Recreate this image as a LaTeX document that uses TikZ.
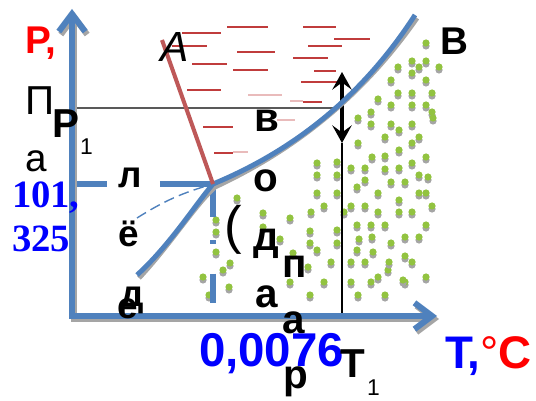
\documentclass[tikz,border=0pt]{standalone}
\usepackage{fontspec}
\setmainfont{Liberation Sans}
\newfontfamily\timesbf[BoldFont={Liberation Serif Bold}]{Liberation Serif}
\usetikzlibrary{arrows.meta}

\definecolor{axisblue}{RGB}{79,129,189}
\definecolor{meltred}{RGB}{190,88,88}
\definecolor{liqred}{RGB}{192,60,60}
\definecolor{vapgreen}{RGB}{146,195,64}
\definecolor{vapgray}{RGB}{165,165,165}

\begin{document}
\begin{tikzpicture}[
  x=0.02cm, y=-0.02cm,
  txt/.style={anchor=base west, inner sep=0pt, outer sep=0pt},
  letter/.style={txt, font=\bfseries\fontsize{23}{23}\selectfont},
  sub/.style={txt, font=\fontsize{13}{13}\selectfont},
  axisline/.style={axisblue, line width=3.4pt, line cap=rect, -{Straight Barb[length=10pt,width=15pt]}},
  axisshadow/.style={vapgray, line width=3.4pt, line cap=rect, -{Straight Barb[length=10pt,width=15pt]}},
  phase/.style={axisblue, line width=2.8pt},
  phaseshadow/.style={vapgray, line width=2.8pt},
  melt/.style={meltred, line width=2.3pt},
  liq/.style={liqred, line width=1pt},
  liqfaded/.style={liqred!35, line width=1pt},
  guide/.style={axisblue, line width=3.4pt},
]
\useasboundingbox (0,0) rectangle (536,401);

%% Key points
\coordinate (O)   at (72,316);
\coordinate (Ytip) at (72,9);
\coordinate (Xtip) at (437,316);
\coordinate (TP)  at (213,184);
\coordinate (A)   at (162,40);
\coordinate (B)   at (415,15);
\coordinate (S)   at (137,275);
\coordinate (Sc)  at (137,218);
\coordinate (P1a) at (72,108);
\coordinate (P1b) at (340,108);
\coordinate (T1top) at (342,72);
\coordinate (T1mid) at (342,143);
\coordinate (T1bot) at (342,315);

%% Vapour dots
\foreach \x/\y in {426/43, 412/61, 426/61, 439/67, 419/67, 398/67, 412/73, 391/80,
  426/80, 398/93, 412/93, 432/93, 378/99, 391/105, 412/105, 426/105, 371/112,
  432/112, 433/118, 358/118, 371/124, 391/124, 412/124, 399/130, 385/137, 419/137,
  358/143, 412/143, 399/150, 372/157, 385/156, 426/157, 317/163, 337/162, 412/163,
  351/168, 365/168, 385/169, 399/168, 317/175, 337/175, 365/180, 419/175, 391/182,
  405/182, 428/177, 357/187, 317/193, 337/193, 378/193, 419/193, 426/193, 399/200,
  324/206, 351/206, 365/206, 432/206, 311/212, 344/212, 378/212, 399/212, 412/212,
  290/218, 337/230, 357/225, 371/225, 385/225, 426/225, 310/231, 280/239, 372/237,
  405/237, 419/237, 359/239, 310/243, 337/243, 391/243, 357/250, 317/250, 293/253,
  373/252, 405/256, 331/262, 351/262, 365/262, 388/270, 412/262, 308/267, 389/262,
  378/277, 426/277, 324/282, 351/282, 371/282, 405/282, 290/282, 310/295, 358/295,
  385/295, 403/280, 237/198, 216/220, 216/232, 216/252, 230/263, 223/270, 203/277,
  229/287, 209/295, 263/213, 263/227}
{
  \fill[vapgray]  (\x,\y+3) circle (3.6);
  \fill[vapgreen] (\x,\y) circle (3.6);
}

%% Liquid dashes
\foreach \xa/\xb/\y in {227/268/27, 182/221/33, 172/207/46, 237/275/52, 192/227/64,
  233/268/70, 187/221/90, 212/233/108, 203/233/127, 214/233/153, 303/336/27,
  334/370/39, 308/342/46, 293/328/58, 314/336/71, 301/342/82, 303/322/102}
  \draw[liq] (\xa,\y) -- (\xb,\y);
\foreach \xa/\xb/\y in {248/282/95, 290/303/101, 277/295/120, 233/248/152}
  \draw[liqfaded] (\xa,\y) -- (\xb,\y);

%% Isobar and isotherm
\draw[black!65, line width=1.6pt] (P1a) -- (P1b);
\draw[black, line width=1pt] (T1mid) -- (T1bot);
\draw[black, line width=2pt, {Stealth[length=10pt,width=11pt,inset=4pt]}-{Stealth[length=10pt,width=11pt,inset=4pt]}] (T1top) -- (T1mid);

%% Triple point guides
\draw[guide, dash pattern=on 20pt off 30pt on 40pt] (O |- TP) -- (TP);
\draw[guide, dash pattern=on 19pt off 13pt on 2pt off 17pt on 17pt off 20pt] (TP) -- (TP |- O);
\draw[axisblue, line width=0.8pt, dash pattern=on 6pt off 3pt] (Sc) to[bend left=8] (TP);

%% Phase curves
\draw[phaseshadow] ([shift={(2,3)}]S) .. controls (170,245) and (195,205) .. ([shift={(2,3)}]TP)
  .. controls (290,152) and (360,100) .. ([shift={(2,3)}]B);
\draw[phase] (S) .. controls (170,245) and (195,205) .. (TP)
  .. controls (290,152) and (360,100) .. (B);
\draw[melt] (TP) -- (A);

%% Axes
\draw[axisshadow] ([shift={(2,3)}]O) -- ([shift={(2,3)}]Ytip);
\draw[axisshadow] ([shift={(2,3)}]O) -- ([shift={(2,3)}]Xtip);
\draw[axisline] (O) -- (Ytip);
\draw[axisline] (O) -- (Xtip);

%% Labels
\node[txt, red, font=\bfseries\fontsize{22}{22}\selectfont] (pAxis) at (25,54) {P,};
\node[txt, font=\fontsize{23}{23}\selectfont] (pPi) at (25,115) {П};
\node[txt, font=\fontsize{22}{22}\selectfont] (pA) at (25,172) {а};
\node[txt, font=\bfseries\fontsize{23}{23}\selectfont] (pOne) at (52,138) {P};
\node[sub] (pOneSub) at (80,155) {1};
\node[txt, blue, font=\timesbf\bfseries\fontsize{22}{22}\selectfont] (pTrA) at (12,208) {101,};
\node[txt, blue, font=\timesbf\bfseries\fontsize{22}{22}\selectfont] (pTrB) at (12,252) {325};

\node[letter, font=\bfseries\fontsize{21}{21}\selectfont] (iceL) at (118,188) {л};
\node[letter, font=\bfseries\fontsize{21}{21}\selectfont] (iceE) at (118,247) {ё};
\node[letter, font=\bfseries\fontsize{21}{21}\selectfont] (iceC) at (117,318) {е};
\node[letter, font=\bfseries\fontsize{21}{21}\selectfont] (iceD) at (120,306) {д};

\node[txt, font=\fontsize{24}{24}\selectfont] (ptA) at (158,62) {\fontspec{Liberation Sans}[FakeSlant=0.2]A};
\node[txt, font=\bfseries\fontsize{22}{22}\selectfont] (ptB) at (440,55) {B};

\node[letter] (wV) at (254,132) {в};
\node[letter] (wO) at (253,192) {о};
\node[txt, font=\fontsize{30}{30}\selectfont] (vPar) at (224,244) {(};
\node[letter] (wD) at (253,251) {д};
\node[letter] (vP) at (282,277) {п};
\node[letter] (wA) at (255,307) {а};
\node[letter] (vA) at (282,333) {а};
\node[letter] (vR) at (283,388) {р};

\node[txt, blue, font=\bfseries\fontsize{27}{27}\selectfont] (tTr) at (199,366) {0,0076};
\node[txt, font=\bfseries\fontsize{23}{23}\selectfont] (tOne) at (340,377) {T};
\node[sub] (tOneSub) at (367,395) {1};
\node[txt, blue, font=\bfseries\fontsize{26}{26}\selectfont] (tAxis) at (445,368) {T,};
\node[txt, red, font=\fontsize{26}{26}\selectfont, anchor=base west] (tUnit) at (tAxis.base east) {°\textbf{C}};

\end{tikzpicture}
\end{document}
